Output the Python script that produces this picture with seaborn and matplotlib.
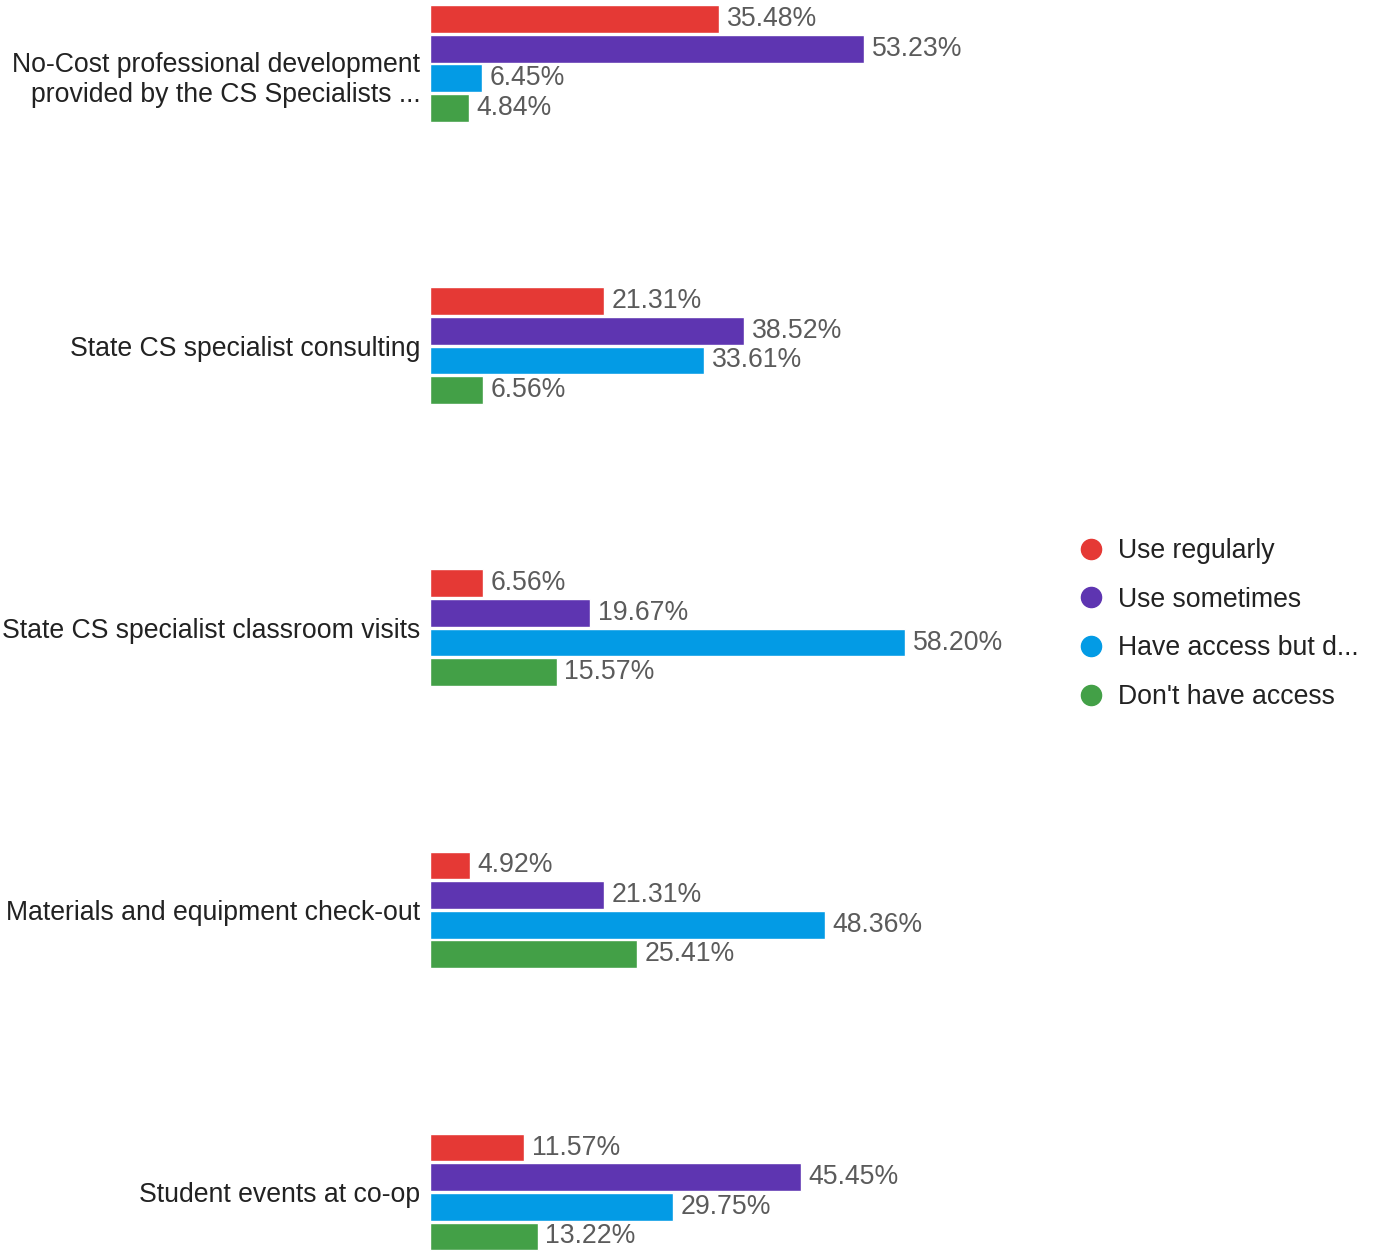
import matplotlib
matplotlib.use("Agg")
import matplotlib.pyplot as plt
import matplotlib.transforms as mtransforms
from matplotlib.lines import Line2D
import seaborn as sns
import pandas as pd

categories = [
    "No-Cost professional development\nprovided by the CS Specialists ...",
    "State CS specialist consulting",
    "State CS specialist classroom visits",
    "Materials and equipment check-out",
    "Student events at co-op",
]
responses = ["Use regularly", "Use sometimes", "Have access but d...", "Don't have access"]
use_regularly = [35.48, 21.31, 6.56, 4.92, 11.57]
use_sometimes = [53.23, 38.52, 19.67, 21.31, 45.45]
have_access_not_used = [6.45, 33.61, 58.20, 48.36, 29.75]
no_access = [4.84, 6.56, 15.57, 25.41, 13.22]
colors = ["#E53935", "#5E35B1", "#039BE5", "#43A047"]

series = [use_regularly, use_sometimes, have_access_not_used, no_access]
rows = []
for resp, vals in zip(responses, series):
    for cat, v in zip(categories, vals):
        rows.append({"category": cat, "response": resp, "value": v})
df = pd.DataFrame(rows)

sns.set_theme(style="white")
plt.rcParams["font.family"] = ["Liberation Sans", "DejaVu Sans"]
FS = 19.2

fig = plt.figure(figsize=(13.77, 12.51), dpi=100)
ax = fig.add_axes([429.5 / 1377, 0.0, 817 / 1377, 1.0])

sns.barplot(
    data=df, y="category", x="value", hue="response",
    order=categories, hue_order=responses, palette=colors,
    orient="h", width=0.42, gap=0.06, legend=False, ax=ax,
    saturation=1,
)

for cont in ax.containers:
    ax.bar_label(cont, labels=[f"{b.get_width():.2f}%" for b in cont],
                 padding=5.5, fontsize=FS, color="#5b5b5b")

ax.set_xlim(0, 100)
ax.set_ylim(4.2091, -0.2251)
ax.set_xlabel("")
ax.set_ylabel("")
ax.set_xticks([])
for s in ax.spines.values():
    s.set_visible(False)
ax.tick_params(axis="y", length=0, pad=6.5, labelsize=FS, labelcolor="#222222")

# the two-line label sits a little lower than its group centre
first = ax.get_yticklabels()[0]
first.set_transform(first.get_transform() +
                    mtransforms.ScaledTranslation(0, -11 / 100, fig.dpi_scale_trans))

handles = [Line2D([], [], marker="o", linestyle="", markersize=14.5,
                  markerfacecolor=c, markeredgecolor=c) for c in colors]
fig.legend(handles, responses, loc="center left",
           bbox_to_anchor=(1062 / 1377, 1 - 624 / 1251), frameon=False,
           fontsize=FS, labelcolor="#222222", labelspacing=0.85,
           handletextpad=0.4, handlelength=1.2, borderpad=0)

fig.savefig("out.png", dpi=100)
